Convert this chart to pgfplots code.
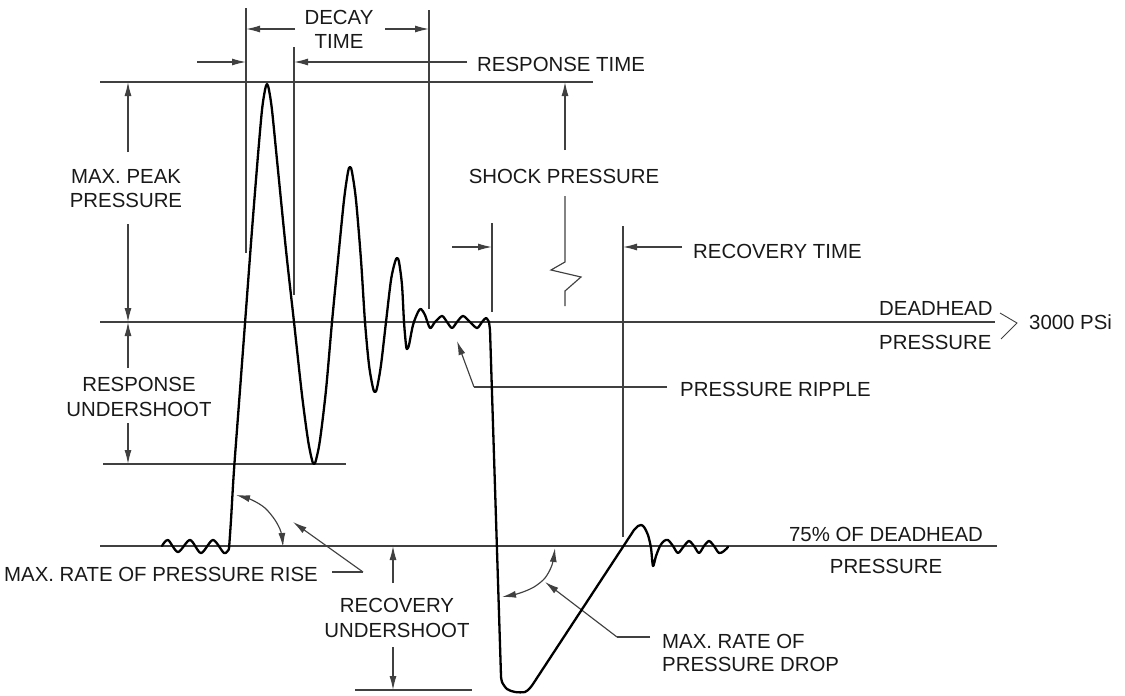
\documentclass[border=0pt]{standalone}
\usepackage{fontspec}
\setmainfont{Liberation Sans}
\usepackage{pgfplots}
\pgfplotsset{compat=1.18}
\usetikzlibrary{arrows.meta}

\tikzset{
  ln/.style={black!75, line width=1.15pt},
  ar/.style={ln, -{Latex[length=14pt,width=7pt]}},
  dar/.style={ln, {Latex[length=14pt,width=7pt]}-{Latex[length=14pt,width=7pt]}},
  cv/.style={black, line width=2.3pt, line join=round, line cap=round},
  lbl/.style={inner sep=0pt, text=black!90, font=\fontsize{20.4pt}{24pt}\selectfont},
}

\begin{document}
\begin{tikzpicture}
\begin{axis}[width=1125pt, height=696pt, scale only axis,
    xmin=0, xmax=1125, ymin=0, ymax=696, y dir=reverse,
    axis lines=none, clip=false]
\addplot[draw=none] coordinates {(0,0) (1125,696)};

% reference levels
\addplot[ln] coordinates {(100,82) (593,82)};
\addplot[ln] coordinates {(100,322) (995,322)};
\addplot[ln] coordinates {(103,464) (346,464)};
\addplot[ln] coordinates {(100,546) (997,546)};
\addplot[ln] coordinates {(355,690) (472,690)};

% time markers
\addplot[ln] coordinates {(246,8) (246,253)};
\addplot[ln] coordinates {(294,47) (294,295)};
\addplot[ln] coordinates {(429,10) (429,309)};
\addplot[ln] coordinates {(492,223) (492,312)};
\addplot[ln] coordinates {(623,226) (623,537)};

% dimension arrows
\addplot[ar] coordinates {(295,29) (246,29)};
\addplot[ar] coordinates {(385,29) (429,29)};
\addplot[ar] coordinates {(197,62) (246,62)};
\addplot[ar] coordinates {(467,62) (294,62)};
\addplot[ar] coordinates {(128,152) (128,82)};
\addplot[ar] coordinates {(128,224) (128,322)};
\addplot[ar] coordinates {(128,368) (128,322)};
\addplot[ar] coordinates {(128,423) (128,464)};
\addplot[ar] coordinates {(565,150) (565,82)};
\addplot[ln] coordinates {(565,196) (565,262) (551,270) (581,277) (565,291) (565,306)};
\addplot[ar] coordinates {(452,247) (492,247)};
\addplot[ar] coordinates {(682,247) (623,247)};
\addplot[ln] coordinates {(667,387) (474,387)};
\addplot[ar] coordinates {(474,387) (457,341)};
\addplot[ln] coordinates {(332,572) (363,572)};
\addplot[ar] coordinates {(363,572) (293,522)};
\addplot[ar] coordinates {(393,583) (393,546)};
\addplot[ar] coordinates {(393,647) (393,690)};
\addplot[ln] coordinates {(650,637) (617,637)};
\addplot[ar] coordinates {(617,637) (545,582)};
\addplot[dar, smooth] coordinates {(236,495) (252,500) (265,508) (275,520) (281,532) (283,547)};
\addplot[dar, smooth] coordinates {(502,597) (520,593) (534,587) (545,578) (552,565) (555,548)};

% bracket
\addplot[ln, line width=0.9pt] coordinates {(1000,313) (1017,323) (1001,339)};

% pressure trace
\addplot[cv, smooth, tension=0.5] coordinates {
(162,546) (168,540) (178,552) (190,540) (201,553) (213,540) (224,553) (229,549)};
\addplot[cv, smooth, tension=0.5] coordinates {
(229,549) (231,520) (234,470) (240,390) (246,310) (252,230) (258,155) (262,110)
(265,90) (267,84) (269,90) (272,110) (277,160) (286,250) (294,322) (302,395)
(308,440) (312,460) (314,464) (316,460) (320,440) (326,390) (332,322) (338,260)
(344,200) (348,172) (350,167) (352,172) (356,200) (361,260) (365,322) (369,365)
(373,388) (375,392) (377,388) (381,365) (386,322) (391,280) (395,262) (397,258)
(399,262) (402,285) (404,322) (406,345) (407,349) (409,345) (413,325) (418,312)
(421,309) (425,315) (430,328) (435,322) (442,316) (447,322) (452,328) (457,322)
(463,316) (470,322) (477,328) (482,322) (486,318) (489,322)};
\addplot[cv] coordinates {(489,322) (490,330) (501,676)};
\addplot[cv, smooth, tension=0.5] coordinates {
(501,676) (502,682) (507,689) (515,692) (525,692) (530,688) (533,684)};
\addplot[cv] coordinates {(533,684) (634,530)};
\addplot[cv, smooth, tension=0.5] coordinates {
(634,530) (638,526) (641,525) (644,527) (648,535) (651,548) (653,566)
(656,556) (660,546) (664,541) (668,540) (673,546) (678,553) (684,546)
(689,541) (694,546) (699,553) (704,546) (709,541) (714,546) (719,553)
(724,551) (728,547)};

% labels
\node[lbl] at (axis cs:339,17) {DECAY};
\node[lbl] at (axis cs:339,41) {TIME};
\node[lbl, anchor=west] at (axis cs:477,64) {RESPONSE TIME};
\node[lbl] at (axis cs:126,176) {MAX. PEAK};
\node[lbl] at (axis cs:126,200) {PRESSURE};
\node[lbl] at (axis cs:564,176) {SHOCK PRESSURE};
\node[lbl, anchor=west] at (axis cs:693,251) {RECOVERY TIME};
\node[lbl, anchor=west] at (axis cs:879,308) {DEADHEAD};
\node[lbl, anchor=west] at (axis cs:879,342) {PRESSURE};
\node[lbl, anchor=west] at (axis cs:1029,322) {3000 PSi};
\node[lbl] at (axis cs:139,384) {RESPONSE};
\node[lbl] at (axis cs:139,409) {UNDERSHOOT};
\node[lbl, anchor=west] at (axis cs:680,389) {PRESSURE RIPPLE};
\node[lbl] at (axis cs:886,534) {75\% OF DEADHEAD};
\node[lbl] at (axis cs:886,566) {PRESSURE};
\node[lbl, anchor=east] at (axis cs:318,574) {MAX. RATE OF PRESSURE RISE};
\node[lbl] at (axis cs:397,605) {RECOVERY};
\node[lbl] at (axis cs:397,630) {UNDERSHOOT};
\node[lbl, anchor=west] at (axis cs:662,641) {MAX. RATE OF};
\node[lbl, anchor=west] at (axis cs:662,664) {PRESSURE DROP};
\end{axis}
\end{tikzpicture}
\end{document}
